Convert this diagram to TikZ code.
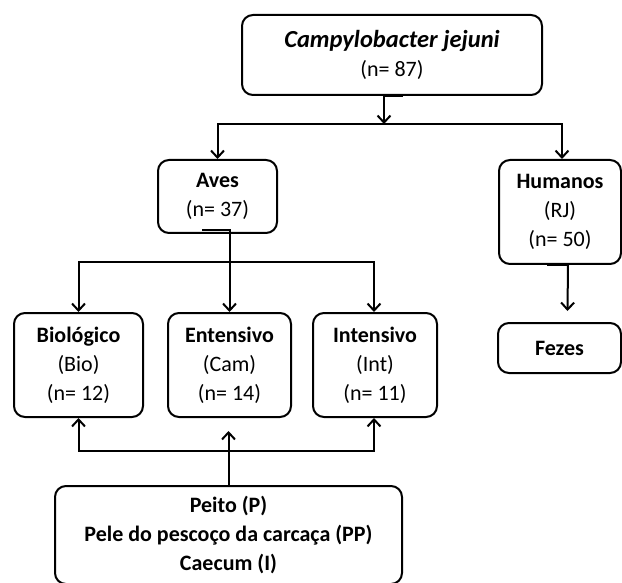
\documentclass[tikz,border=0pt]{standalone}
\usepackage{fontspec}
\setmainfont{Carlito}
\usetikzlibrary{arrows.meta}
\begin{document}
\begin{tikzpicture}[x=1pt,y=-1pt,
  box/.style={draw, line width=2pt, rounded corners=11pt, align=center, inner sep=0pt,
    font=\fontsize{22}{29}\selectfont},
  conn/.style={line width=2pt, -{Straight Barb[length=7pt,width=13pt,line width=2pt]}}]
\useasboundingbox (0,0) rectangle (622,583);

\node[box, minimum width=300pt, minimum height=80pt] (top) at (392,55)
  {{\fontsize{24.5}{29}\selectfont\textbf{\textit{Campylobacter jejuni}}}\\(n= 87)};
\node[box, minimum width=119pt, minimum height=73pt] (aves) at (217.5,196.5)
  {\textbf{Aves}\\(n= 37)};
\node[box, minimum width=122pt, minimum height=104pt] (hum) at (560,212)
  {\textbf{Humanos}\\(RJ)\\(n= 50)};
\node[box, minimum width=123pt, minimum height=50pt] (fez) at (559.5,348)
  {\textbf{Fezes}};
\node[box, minimum width=129pt, minimum height=104pt] (bio) at (78.5,365)
  {\textbf{Biológico}\\(Bio)\\(n= 12)};
\node[box, minimum width=123pt, minimum height=104pt] (ent) at (229.5,365)
  {\textbf{Entensivo}\\(Cam)\\(n= 14)};
\node[box, minimum width=124pt, minimum height=104pt] (int) at (375,365)
  {\textbf{Intensivo}\\(Int)\\(n= 11)};
\node[box, minimum width=347pt, minimum height=98pt] (peito) at (228.5,535)
  {\textbf{Peito (P)}\\\textbf{Pele do pescoço da carcaça (PP)}\\\textbf{Caecum (I)}};

% top -> Aves / Humanos
\coordinate (j1) at (384,124);
\draw[conn] ([xshift=11pt]top.south) -- ([xshift=-8pt]top.south) -- (j1);
\draw[conn] (j1) -| (aves.north);
\draw[conn] (j1) -| ([xshift=2pt]hum.north);

% Aves -> three systems
\coordinate (j2) at (229.5,262);
\draw[conn] ([xshift=-15.5pt,yshift=4pt]aves.south) -- ([xshift=12pt,yshift=4pt]aves.south) -- (ent.north);
\draw[conn] (j2) -| (bio.north);
\draw[conn] (j2) -| ([xshift=-1pt]int.north);

% Humanos -> Fezes
\draw[conn] ([xshift=-13pt]hum.south) -- ([xshift=8pt]hum.south) -- ([xshift=8pt,yshift=11pt]fez.north);

% samples -> systems
\coordinate (j3) at (228.5,451);
\draw[conn] (peito.north) -- ([xshift=-1pt,yshift=-13pt]ent.south);
\draw[conn] (j3) -| (bio.south);
\draw[conn] (j3) -| ([xshift=-1pt]int.south);
\end{tikzpicture}
\end{document}
